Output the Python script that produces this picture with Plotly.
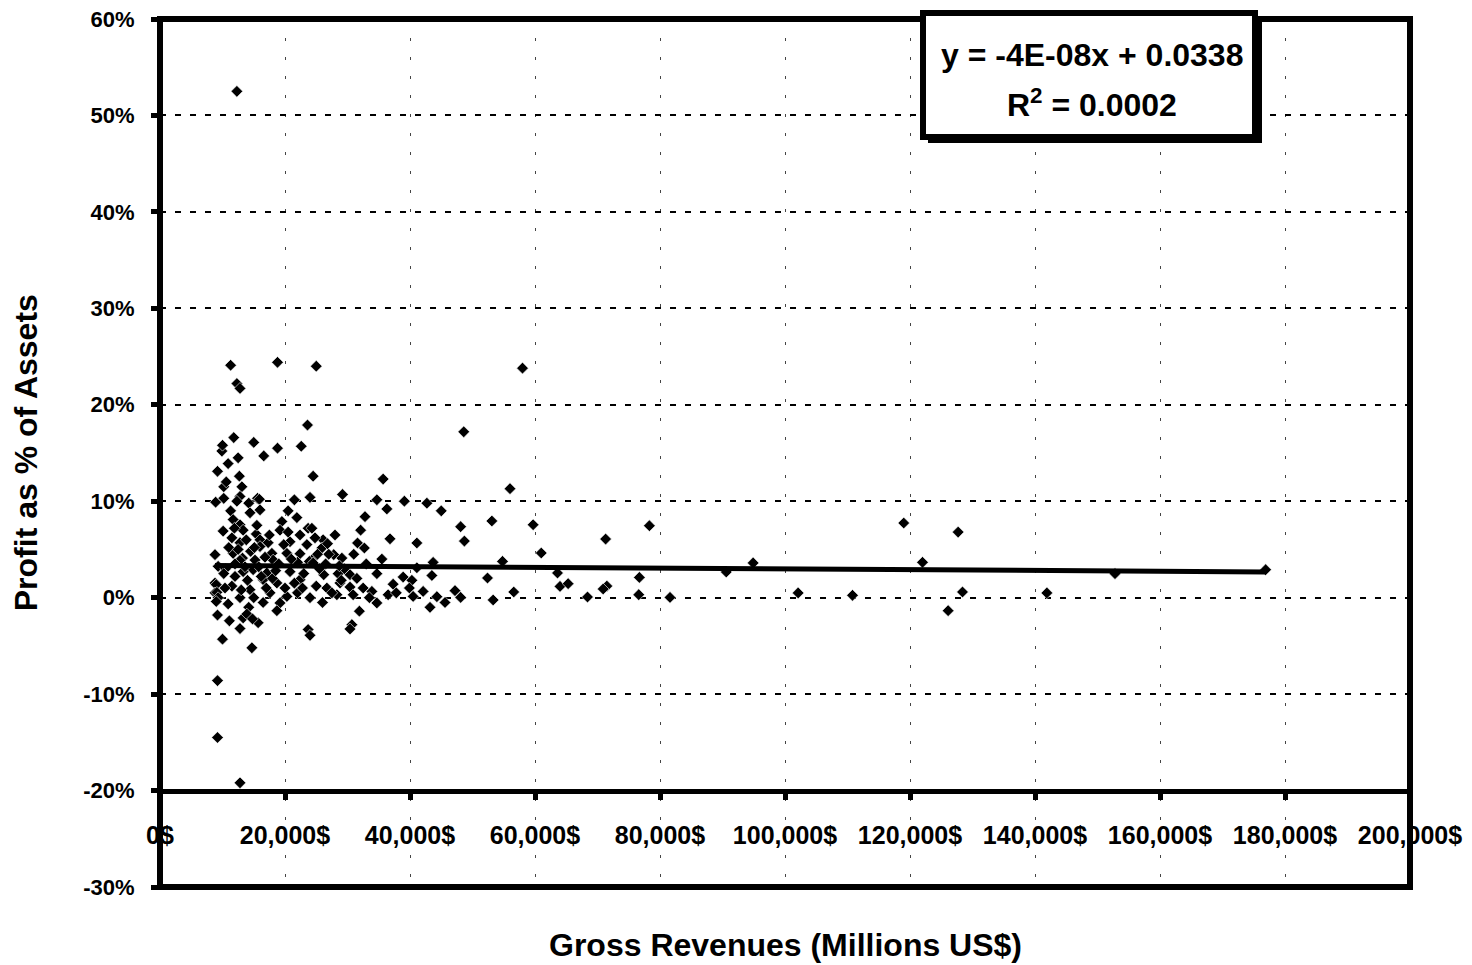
import plotly.graph_objects as go

# Gross revenues (millions US$) and profit as share of assets
revenue = [
    12300, 11300, 18800, 25000, 12300, 12800, 23600, 48600, 58000,
    11800, 15000, 9900, 10000, 18800, 22600, 16600, 12500, 10900, 9200, 12700,
    24500, 35700, 56000, 10200, 13100, 10600, 10200, 12800, 15600, 8900, 24000,
    29200, 21500, 34700, 39100, 42700, 12300, 14200, 15900,
    11300, 16000, 14400, 36300, 20500, 45000, 21900, 11700, 19500, 32800,
    12800, 10100, 13300, 19200, 23700, 24300, 32100, 48100, 53100, 59700,
    78300, 119000, 127700,
    15400, 22400, 36800, 11500, 16000, 20800, 17300, 26100, 41100, 31600,
    12800, 48700, 71300, 25900, 32700, 16000, 61000,
    8800, 11700, 13200, 17900, 20300, 22400, 27800, 15200, 18100, 24300,
    22000, 23900, 12800, 29100, 24500, 43700, 54800, 94900, 122000,
    9300, 41100, 14900, 13300, 20800, 17100, 12000, 26200, 28500, 30400,
    34700, 38900, 43500, 52400, 63600, 76700, 90600, 152800, 176900,
    40300, 22400, 16500, 18700, 8800, 28800, 30400, 32500, 37300, 39900,
    26700, 64000, 65300, 71500, 9000,
    14400, 17600, 8800, 9100, 33900, 42100, 47200, 56600, 70900, 128400,
    141900, 102100, 110800,
    36500, 28300, 30900, 76600, 40500, 44300, 48100, 68400, 81600, 20300,
    9300, 12800, 24000,
    53300, 9000, 10900, 19200, 34700, 45600, 43200, 18700, 31900, 126100,
    9200, 13300, 11100, 30700, 12800, 23700, 30400, 24000, 10000, 14700,
    9200, 9200, 12800,
    10500, 11000, 12000, 13800, 14500, 15800, 16800, 18000, 19000, 20000,
    21000, 22000, 23000, 25000, 26500, 27500, 28000, 29500, 31000, 33000,
    11500, 13000, 14000, 15000, 16500, 17500, 19800, 21500, 23500, 25500,
    27000, 10200, 12500, 15500, 17000, 18500, 20500, 22800, 24800, 26000,
    29000, 31500, 14200, 16200, 11900, 10400, 13600, 15100, 26800, 28700,
    33500, 35500, 37800, 25200, 13900, 15700, 14800,
]
profit_pct = [
    0.525, 0.241, 0.244, 0.240, 0.222, 0.217, 0.179, 0.172, 0.238,
    0.166, 0.161, 0.152, 0.158, 0.155, 0.157, 0.147, 0.145, 0.139, 0.131, 0.126,
    0.126, 0.123, 0.113, 0.115, 0.115, 0.120, 0.103, 0.105, 0.103, 0.099, 0.104,
    0.107, 0.1015, 0.1015, 0.100, 0.098, 0.100, 0.098, 0.102,
    0.090, 0.091, 0.088, 0.092, 0.090, 0.090, 0.083, 0.081, 0.079, 0.084,
    0.0756, 0.069, 0.070, 0.070, 0.072, 0.072, 0.070, 0.0736, 0.0795, 0.0756,
    0.0746, 0.0774, 0.068,
    0.066, 0.065, 0.061, 0.062, 0.060, 0.058, 0.057, 0.060, 0.0567, 0.0567,
    0.057, 0.0587, 0.0608, 0.0515, 0.0515, 0.053, 0.0463,
    0.0446, 0.046, 0.041, 0.046, 0.046, 0.0456, 0.0446, 0.039, 0.039, 0.039,
    0.0366, 0.0376, 0.0387, 0.041, 0.036, 0.0366, 0.0376, 0.036, 0.0366,
    0.0325, 0.031, 0.029, 0.027, 0.027, 0.0256, 0.022, 0.0238, 0.0249, 0.0238,
    0.0249, 0.0214, 0.023, 0.0204, 0.0256, 0.021, 0.0266, 0.0249, 0.029,
    0.018, 0.0187, 0.0187, 0.0152, 0.0152, 0.0152, 0.011, 0.010, 0.014, 0.010,
    0.010, 0.0117, 0.0145, 0.012, 0.0135,
    0.0083, 0.005, 0.005, 0.0055, 0.0065, 0.0065, 0.0073, 0.0059, 0.009, 0.0059,
    0.0049, 0.0049, 0.0024,
    0.003, 0.003, 0.003, 0.0031, 0.0013, 0.001, 0.0003, 0.0007, 0.0003, 0.0013,
    0.0, 0.0, 0.0,
    -0.0024, -0.004, -0.0065, -0.0055, -0.0055, -0.005, -0.010, -0.0135, -0.014, -0.0135,
    -0.018, -0.021, -0.024, -0.028, -0.032, -0.033, -0.0325, -0.039, -0.043, -0.052,
    -0.086, -0.145, -0.192,
    0.030, 0.052, 0.035, 0.060, 0.048, 0.032, 0.042, 0.020, 0.035, 0.010,
    0.040, 0.005, 0.025, 0.012, 0.035, 0.005, 0.065, 0.030, 0.045, 0.035,
    0.012, 0.008, 0.018, 0.000, -0.005, 0.065, 0.055, 0.015, 0.055, 0.030,
    0.045, 0.025, 0.050, 0.075, 0.010, 0.028, 0.068, 0.010, 0.062, -0.005,
    0.018, 0.020, -0.010, 0.022, 0.072, 0.010, 0.032, 0.052, 0.056, 0.033,
    0.000, 0.040, 0.005, 0.045, -0.017, -0.026, -0.022,
]

# linear trendline as printed on the chart
TREND_SLOPE = -4e-08
TREND_INTERCEPT = 0.0338
equation_line1 = "y = -4E-08x + 0.0338"
equation_line2 = "R<sup>2</sup> = 0.0002"

x_ticks = [0, 20000, 40000, 60000, 80000, 100000, 120000, 140000, 160000, 180000, 200000]
x_tick_labels = ["0$", "20,000$", "40,000$", "60,000$", "80,000$", "100,000$",
                 "120,000$", "140,000$", "160,000$", "180,000$", "200,000$"]
y_ticks = [-0.3, -0.2, -0.1, 0.0, 0.1, 0.2, 0.3, 0.4, 0.5, 0.6]
y_tick_labels = ["-30%", "-20%", "-10%", "0%", "10%", "20%", "30%", "40%", "50%", "60%"]

FONT = "Liberation Sans, Arial, sans-serif"

trend_x = [min(revenue), max(revenue)]
trend_y = [TREND_SLOPE * v + TREND_INTERCEPT for v in trend_x]

fig = go.Figure()

fig.add_trace(go.Scatter(
    x=revenue, y=profit_pct, mode="markers",
    marker=dict(symbol="diamond", size=9, color="black",
                line=dict(color="white", width=0.6)),
    showlegend=False, hoverinfo="x+y",
))

fig.add_trace(go.Scatter(
    x=trend_x, y=trend_y, mode="lines",
    line=dict(color="black", width=5),
    showlegend=False, hoverinfo="skip",
))

# x axis crosses the value axis at -20%
cross_pos = (-0.2 - y_ticks[0]) / (y_ticks[-1] - y_ticks[0])

# page body adds an 8px margin, so the figure is shifted by 8px
fig.update_layout(
    width=1464, height=957,
    margin=dict(l=152, r=62, t=11, b=78),
    paper_bgcolor="white", plot_bgcolor="white",
    font=dict(family=FONT, color="black"),
    xaxis=dict(
        range=[0, 200000], tickvals=x_ticks, ticktext=x_tick_labels,
        tickfont=dict(family=FONT, size=25, weight="bold"),
        showgrid=True, gridcolor="#444", gridwidth=1, griddash="3px,16px",
        zeroline=False, anchor="free", position=cross_pos,
        showline=True, linecolor="black", linewidth=5,
        ticks="outside", ticklen=6, tickwidth=5, tickcolor="black",
        ticklabelstandoff=14, ticklabeloverflow="allow", automargin=False,
    ),
    yaxis=dict(
        range=[-0.3, 0.6], tickvals=y_ticks, ticktext=y_tick_labels,
        tickfont=dict(family=FONT, size=22, weight="bold"),
        showgrid=True, gridcolor="black", gridwidth=2, griddash="6px,9px",
        zeroline=False, showline=False,
        ticks="outside", ticklen=8, tickwidth=5, tickcolor="black",
        ticklabelstandoff=12, ticklabeloverflow="allow", automargin=False,
    ),
    shapes=[
        # plot frame
        dict(type="rect", xref="paper", yref="paper", x0=0, x1=1, y0=0, y1=1,
             line=dict(color="black", width=6), layer="above"),
        # equation box shadow and box
        dict(type="rect", xref="paper", yref="paper", x0=0.6144, x1=0.8816,
             y0=0.857, y1=1.0001, fillcolor="black",
             line=dict(color="black", width=0), layer="above"),
        dict(type="rect", xref="paper", yref="paper", x0=0.6104, x1=0.8760,
             y0=0.8640, y1=1.0069, fillcolor="white",
             line=dict(color="black", width=6), layer="above"),
    ],
    annotations=[
        dict(text=equation_line1, xref="paper", yref="paper", x=0.7456, y=0.9585,
             xanchor="center", yanchor="middle", showarrow=False,
             font=dict(family=FONT, size=32, weight="bold")),
        dict(text=equation_line2, xref="paper", yref="paper", x=0.7456, y=0.9032,
             xanchor="center", yanchor="middle", showarrow=False,
             font=dict(family=FONT, size=32, weight="bold")),
        dict(text="Gross Revenues (Millions US$)", xref="paper", yref="paper",
             x=0.5, y=-0.0668, xanchor="center", yanchor="middle", showarrow=False,
             font=dict(family=FONT, size=32, weight="bold")),
        dict(text="Profit as % of Assets", xref="paper", yref="paper",
             x=-0.107, y=0.5, xanchor="center", yanchor="middle",
             textangle=-90, showarrow=False,
             font=dict(family=FONT, size=32, weight="bold")),
    ],
)

fig.write_html("out.html")
